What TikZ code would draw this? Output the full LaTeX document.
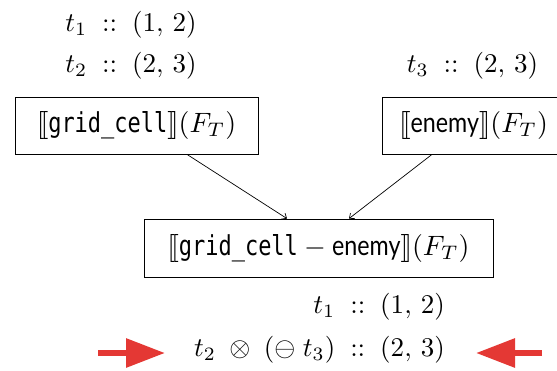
\documentclass[tikz,border=0pt]{standalone}
\usepackage{graphicx}
\usepackage{fontspec}
\setsansfont{Lato}
\setmonofont{DejaVu Sans Mono}
\usetikzlibrary{arrows.meta,calc}
\definecolor{arrowred}{RGB}{228,56,52}
% semantic brackets built from two square brackets
\newcommand{\semL}{[\mkern-2.6mu[}
\newcommand{\semR}{]\mkern-2.6mu]}
% enlarged formulas
\newcommand{\fact}[1]{\scalebox{2.7}{$#1$}}
\newcommand{\rel}[1]{\scalebox{2.8}{$#1$}}
% relation names: narrow typewriter and sans
\newcommand{\code}[1]{\mbox{\scalebox{0.8}[1]{\fontsize{9.8}{12}\selectfont\ttfamily #1}}}
\newcommand{\name}[1]{\mbox{\scalebox{0.84}[1]{\fontsize{9.9}{12}\selectfont\sffamily #1}}}
\newcommand{\hasT}{\;\mathrel{::}\;}

\begin{document}
\begin{tikzpicture}[x=1pt,y=-1pt,
  box/.style={draw, line width=0.8pt, inner sep=0pt},
  lbl/.style={inner sep=0pt},
  link/.style={line width=0.7pt, -{Straight Barb[length=4pt,width=7pt]}},
  pointer/.style={arrowred, line width=6pt, -{Triangle[length=39pt,width=28pt]}}]
  \useasboundingbox (0,0) rectangle (557,370);

  % facts attached to the inputs
  \node[lbl, anchor=base] (a1) at (131,31) {\fact{t_1 \hasT (1,\,2)}};
  \node[lbl, anchor=base] (a2) at (131,72) {\fact{t_2 \hasT (2,\,3)}};
  \node[lbl, anchor=base] (a3) at (472.5,72) {\fact{t_3 \hasT (2,\,3)}};

  % relation boxes
  \node[box, minimum width=243pt, minimum height=57pt] (g) at (136.5,125.5)
    {\rel{\semL\code{grid\_cell}\semR(F_T)}};
  \node[box, minimum width=183pt, minimum height=57pt] (e) at (473.5,125.5)
    {\rel{\semL\name{enemy}\semR(F_T)}};
  \node[box, minimum width=349pt, minimum height=58pt] (d) at (318.5,248)
    {\rel{\semL\code{grid\_cell} - \name{enemy}\semR(F_T)}};

  \draw[link] ($(g.south)+(50.5,0)$) -- ($(d.north)+(-31.5,0)$);
  \draw[link] ($(e.south)+(-41.5,0)$) -- ($(d.north)+(30.5,0)$);

  % facts of the difference
  \node[lbl, anchor=base east] (r1) at (445,313) {\fact{t_1 \hasT (1,\,2)}};
  \node[lbl, anchor=base east] (r2) at (445,356)
    {\fact{t_2 \;\otimes\; (\ominus\;t_3) \hasT (2,\,3)}};

  % red markers pointing at the combined fact
  \coordinate (pl) at (98,353);
  \coordinate (plt) at (165,353);
  \coordinate (pr) at (542,353);
  \coordinate (prt) at (476,353);
  \draw[pointer] (pl) -- (plt);
  \draw[pointer] (pr) -- (prt);
\end{tikzpicture}
\end{document}
